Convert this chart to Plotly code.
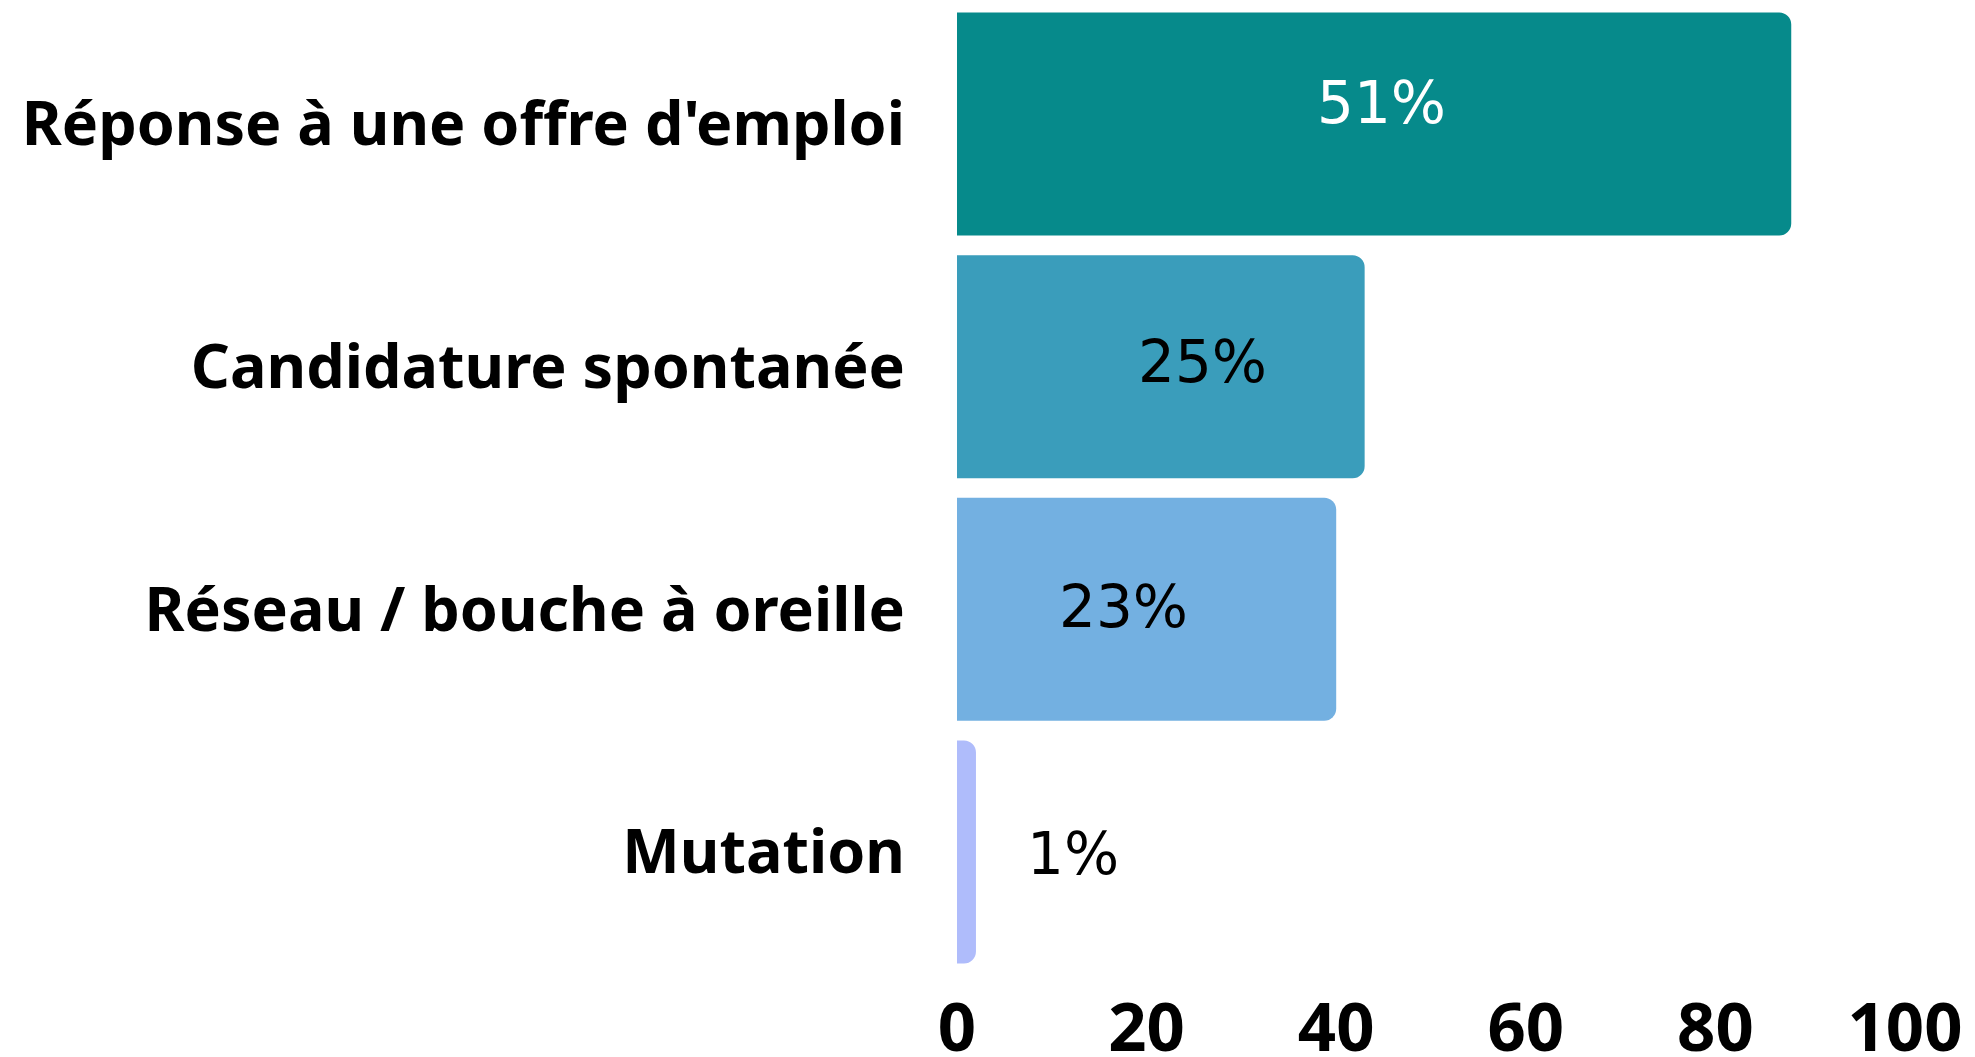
import plotly.graph_objects as go

# recruitment channels (counts) and the share labels shown on the bars
categories = ["Réponse à une offre d'emploi", "Candidature spontanée",
              "Réseau / bouche à oreille", "Mutation"]
counts = [88, 43, 40, 2]
shares = ["51%", "25%", "23%", "1%"]
bar_colors = ["#068a8b", "#3a9dbb", "#73b0e1", "#afbcfb"]
label_colors = ["white", "black", "black", "black"]
tick_vals = [0, 20, 40, 60, 80, 100]

# where the share labels sit (x in data units, vertical pixel shift)
label_x = [44.8, 25.9, 17.6, 12.2]
label_shift = [21, 5, 2, -2]

fig = go.Figure()
fig.add_trace(go.Bar(
    y=categories, x=counts, orientation='h',
    marker=dict(color=bar_colors, cornerradius=12, line=dict(width=0)),
    hoverinfo='skip', showlegend=False))

for c, sx, sh, txt, col in zip(categories, label_x, label_shift, shares, label_colors):
    fig.add_annotation(x=sx, y=c, text=txt, showarrow=False, yshift=sh,
                       font=dict(family="DejaVu Sans", size=58, color=col))

fig.update_layout(
    template='simple_white',
    width=1975, height=1057,
    margin={'t': 0, 'l': 949, 'b': 92, 'r': 78},
    bargap=0.081,
    font=dict(family="Noto Sans", color='black'),
    xaxis=dict(range=[0, 100], tickvals=tick_vals, showline=False, ticks='',
               showgrid=False, zeroline=False, ticklabelstandoff=10, automargin=False,
               tickfont=dict(size=67, family="Noto Sans", weight='bold')),
    yaxis=dict(range=[3.4986, -0.478], showline=False, ticks='', ticklabelstandoff=51,
               automargin=False,
               tickfont=dict(size=61, family="Noto Sans", weight='bold')),
)

fig.write_html("out.html")
